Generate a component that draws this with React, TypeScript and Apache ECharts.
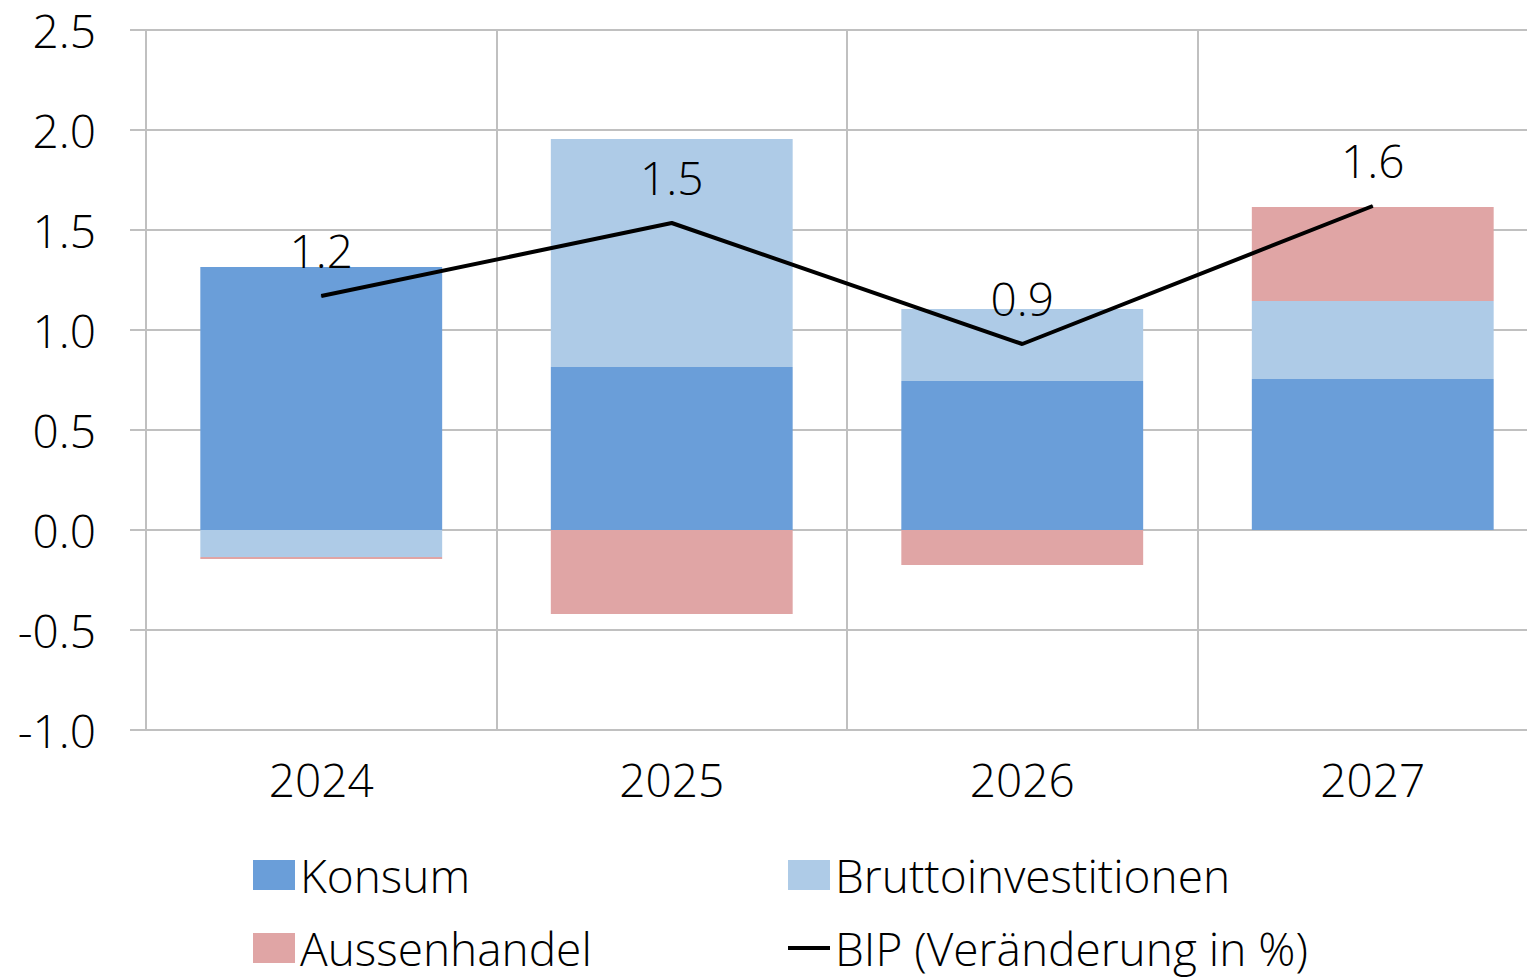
import React, { useEffect, useRef } from "react";
import * as echarts from "echarts";

const years = ["2024", "2025", "2026", "2027"];
const konsum = [1.315, 0.815, 0.745, 0.755];
const brutto = [-0.135, 1.14, 0.36, 0.39];
const aussenhandel = [-0.01, -0.42, -0.175, 0.47];
const bip = [1.17, 1.535, 0.93, 1.62];
const yTicks = [-1.0, -0.5, 0.0, 0.5, 1.0, 1.5, 2.0, 2.5];

const FONT = "'Open Sans', 'Noto Sans', sans-serif";
const GRID_COLOR = "#C0C0C0";

export default function App() {
  const ref = useRef<HTMLDivElement>(null);
  useEffect(() => {
    if (!ref.current) return;
    const chart = echarts.init(ref.current, null, { renderer: "svg" });
    const textBase = { fontFamily: FONT, fontWeight: 300, color: "#000", fontSize: 46 };
    chart.setOption({
      animation: false,
      backgroundColor: "#fff",
      textStyle: { fontFamily: FONT },
      grid: { left: 146, top: 30, right: 0, bottom: 248, containLabel: false },
      xAxis: {
        type: "category",
        data: years,
        boundaryGap: true,
        axisLine: { show: true, onZero: false, lineStyle: { color: GRID_COLOR, width: 2 } },
        axisTick: { show: false },
        splitLine: { show: true, lineStyle: { color: GRID_COLOR, width: 2 } },
        axisLabel: { ...textBase, margin: 26 },
      },
      yAxis: {
        type: "value",
        min: yTicks[0],
        max: yTicks[yTicks.length - 1],
        interval: 0.5,
        axisLine: { show: true, lineStyle: { color: GRID_COLOR, width: 2 } },
        axisTick: { show: true, length: 16, lineStyle: { color: GRID_COLOR, width: 2 } },
        splitLine: { show: true, lineStyle: { color: GRID_COLOR, width: 2 } },
        axisLabel: { ...textBase, margin: 50, padding: [0, 0, 6, 0], formatter: (v: number) => v.toFixed(1) },
      },
      legend: [
        {
          orient: "vertical",
          left: 253,
          top: 852,
          padding: 0,
          itemWidth: 42,
          itemHeight: 30,
          itemGap: 27,
          textStyle: { ...textBase, lineHeight: 46 },
          data: [
            { name: "Konsum", icon: "rect" },
            { name: "Aussenhandel", icon: "rect" },
          ],
        },
        {
          orient: "vertical",
          left: 788,
          top: 852,
          padding: 0,
          itemWidth: 42,
          itemHeight: 30,
          itemGap: 27,
          textStyle: { ...textBase, lineHeight: 46 },
          data: [
            { name: "Bruttoinvestitionen", icon: "rect" },
            { name: "BIP (Veränderung in %)", icon: "path://M0,0L42,0L42,4L0,4Z" },
          ],
        },
      ],
      series: [
        {
          name: "Konsum",
          type: "bar",
          stack: "total",
          data: konsum,
          barWidth: "69%",
          itemStyle: { color: "#6A9ED9" },
        },
        {
          name: "Bruttoinvestitionen",
          type: "bar",
          stack: "total",
          data: brutto,
          itemStyle: { color: "#AECBE7" },
        },
        {
          name: "Aussenhandel",
          type: "bar",
          stack: "total",
          data: aussenhandel,
          itemStyle: { color: "#E0A5A5" },
        },
        {
          name: "BIP (Veränderung in %)",
          type: "line",
          data: bip,
          symbol: "circle",
          symbolSize: 1,
          showSymbol: true,
          lineStyle: { color: "#000", width: 4 },
          itemStyle: { color: "#000" },
          z: 5,
          label: {
            show: true,
            position: "top",
            distance: 23,
            ...textBase,
            formatter: (p: any) => Number(p.value).toFixed(1),
          },
        },
      ],
    });
    return () => chart.dispose();
  }, []);
  return (
    <div style={{ width: 1527, height: 978, position: "absolute", left: 0, top: 0, overflow: "hidden" }}>
      <div ref={ref} style={{ width: 1548, height: 978 }} />
    </div>
  );
}
